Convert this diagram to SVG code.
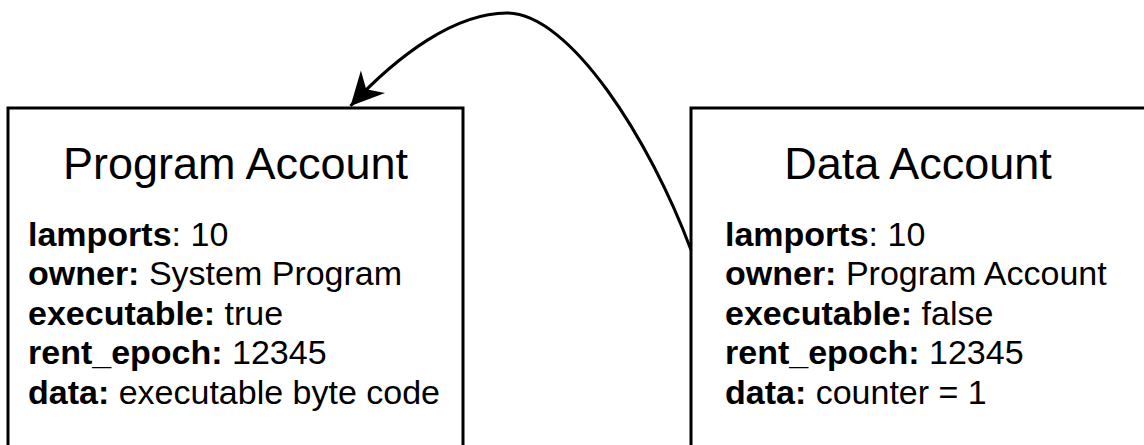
<svg xmlns="http://www.w3.org/2000/svg" width="1144" height="445" viewBox="0 0 1144 445">
  <style>
    .box { fill: #ffffff; stroke: #000000; stroke-width: 3; }
    .title { font-family: "Liberation Sans", Arial, sans-serif; font-size: 45px; fill: #000000; text-anchor: middle; }
    .body { font-family: "Liberation Sans", Arial, sans-serif; font-size: 34px; fill: #000000; }
    .b { font-weight: bold; }
    .edge { fill: none; stroke: #000000; stroke-width: 3; }
  </style>
  <defs>
    <marker id="arrow" markerUnits="userSpaceOnUse" orient="auto" markerWidth="44" markerHeight="44" viewBox="-38 -22 44 44" refX="0" refY="0">
      <path d="M0,0 L-33,-16.5 L-23,0 L-33,16.5 Z" fill="#000000"/>
    </marker>
  </defs>
  <rect width="1144" height="445" fill="#ffffff"/>
  <g id="program-account">
    <rect class="box" x="8" y="108" width="455" height="400"/>
    <text class="title" x="235.5" y="179">Program Account</text>
    <text class="body" x="28" y="246"><tspan class="b">lamports</tspan>: 10</text>
    <text class="body" x="28" y="284.5"><tspan class="b">owner:</tspan> System Program</text>
    <text class="body" x="28" y="324.5"><tspan class="b">executable:</tspan> true</text>
    <text class="body" x="28" y="364"><tspan class="b">rent_epoch:</tspan> 12345</text>
    <text class="body" x="28" y="403.5"><tspan class="b">data:</tspan> executable byte code</text>
  </g>
  <g id="data-account">
    <rect class="box" x="691" y="108" width="455" height="400"/>
    <text class="title" x="918" y="179">Data Account</text>
    <text class="body" x="725" y="246"><tspan class="b">lamports</tspan>: 10</text>
    <text class="body" x="725" y="284.5"><tspan class="b">owner:</tspan> Program Account</text>
    <text class="body" x="725" y="324.5"><tspan class="b">executable:</tspan> false</text>
    <text class="body" x="725" y="364"><tspan class="b">rent_epoch:</tspan> 12345</text>
    <text class="body" x="725" y="403.5"><tspan class="b">data:</tspan> counter = 1</text>
  </g>
  <g id="connectors">
    <path class="edge" d="M691,250 C650,140 570,13 507,13 C455,13 398,55 350.5,106" marker-end="url(#arrow)"/>
  </g>
</svg>
